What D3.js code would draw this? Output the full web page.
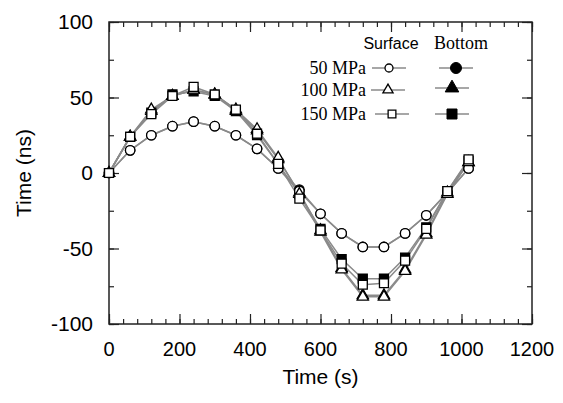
<!DOCTYPE html>
<html>
<head>
<meta charset="utf-8">
<script src="https://cdn.jsdelivr.net/npm/d3@7"></script>
<style>
  body { margin: 0; background: #fff; }
  svg { display: block; }
</style>
</head>
<body>
<div id="chart"></div>
<script>
// Data
var times = [0, 60, 120, 180, 240, 300, 360, 420, 480, 540, 600, 660, 720, 780, 840, 900, 960, 1020];
var surf50  = [0, 15, 25, 31, 34, 31, 25, 16, 3, -12, -27, -40, -49, -49, -40, -28, -13, 3];
var bot50   = [0, 15, 25, 31, 34, 31, 25, 16, 3, -11, -27, -40, -49, -49, -40, -28, -13, 3];
var surf100 = [0, 24, 42, 51, 55, 52, 42, 29, 10, -14, -39, -64, -82, -82, -65, -41, -14, 7];
var bot100  = [0, 24, 41, 51, 55, 52, 41, 28, 9, -13, -38, -63, -81, -81, -64, -40, -13, 7];
var surf150 = [0, 24, 39, 51, 57, 52, 42, 26, 6, -17, -38, -60, -74, -73, -58, -37, -12, 9];
var bot150  = [0, 24, 40, 52, 54, 51, 41, 25, 6, -14, -37, -57, -70, -70, -56, -36, -12, 8];
var pressures = ['50 MPa', '100 MPa', '150 MPa'];
var xTicks = [0, 200, 400, 600, 800, 1000, 1200];
var yTicks = [-100, -50, 0, 50, 100];

function drawChart() {
  var width = 563, height = 403;
  var m = {left: 109, right: 31, top: 22, bottom: 79};
  var w = width - m.left - m.right;
  var h = height - m.top - m.bottom;

  var svg = d3.select('#chart').append('svg')
    .attr('width', width)
    .attr('height', height);

  var x = d3.scaleLinear().domain([0, 1200]).range([m.left, m.left + w]);
  var y = d3.scaleLinear().domain([-100, 100]).range([m.top + h, m.top]);

  var axisColor = '#222';

  // ticks (inward), major and minor, on all four sides
  var xMinor = d3.range(0, 1201, 40);
  var yMinor = d3.range(-100, 101, 25);
  function tickAxis(axis, pos, vals, size) {
    var g = svg.append('g')
      .attr('transform', pos)
      .call(axis.tickValues(vals).tickSize(size).tickFormat(''));
    g.select('.domain').remove();
    g.selectAll('line').attr('stroke', axisColor).attr('stroke-width', 1.2);
    return g;
  }
  tickAxis(d3.axisBottom(x), 'translate(0,' + (m.top + h) + ')', xMinor, -5);
  tickAxis(d3.axisBottom(x), 'translate(0,' + (m.top + h) + ')', xTicks, -10);
  tickAxis(d3.axisTop(x), 'translate(0,' + m.top + ')', xMinor, -5);
  tickAxis(d3.axisTop(x), 'translate(0,' + m.top + ')', xTicks, -10);
  tickAxis(d3.axisLeft(y), 'translate(' + m.left + ',0)', yMinor, -5);
  tickAxis(d3.axisLeft(y), 'translate(' + m.left + ',0)', yTicks, -10);
  tickAxis(d3.axisRight(y), 'translate(' + (m.left + w) + ',0)', yMinor, -5);
  tickAxis(d3.axisRight(y), 'translate(' + (m.left + w) + ',0)', yTicks, -10);

  // frame
  svg.append('rect')
    .attr('x', m.left).attr('y', m.top)
    .attr('width', w).attr('height', h)
    .attr('fill', 'none')
    .attr('stroke', axisColor)
    .attr('stroke-width', 1.5);

  // tick labels
  var sans = 'Liberation Sans, Arial, sans-serif';
  var serif = 'Liberation Serif, Times New Roman, serif';
  svg.append('g').selectAll('text')
    .data(xTicks).enter().append('text')
    .attr('x', function(d) { return x(d); })
    .attr('y', m.top + h + 32)
    .attr('text-anchor', 'middle')
    .attr('font-family', sans)
    .attr('font-size', 20)
    .text(function(d) { return d; });

  svg.append('g').selectAll('text')
    .data(yTicks).enter().append('text')
    .attr('x', m.left - 16)
    .attr('y', function(d) { return y(d) + 7; })
    .attr('text-anchor', 'end')
    .attr('font-family', sans)
    .attr('font-size', 21)
    .text(function(d) { return d; });

  svg.append('text')
    .attr('x', x(600)).attr('y', 384)
    .attr('text-anchor', 'middle')
    .attr('font-family', sans)
    .attr('font-size', 21)
    .text('Time (s)');

  svg.append('text')
    .attr('transform', 'translate(31,' + y(0) + ') rotate(-90)')
    .attr('text-anchor', 'middle')
    .attr('font-family', sans)
    .attr('font-size', 21)
    .text('Time (ns)');

  // series: bottom drawn first, surface on top
  var series = [
    {vals: bot50, shape: d3.symbolCircle, fill: '#000', size: 70},
    {vals: bot100, shape: d3.symbolTriangle, fill: '#000', size: 55},
    {vals: bot150, shape: d3.symbolSquare, fill: '#000', size: 80},
    {vals: surf50, shape: d3.symbolCircle, fill: '#fff', size: 70},
    {vals: surf100, shape: d3.symbolTriangle, fill: '#fff', size: 55},
    {vals: surf150, shape: d3.symbolSquare, fill: '#fff', size: 80}
  ];

  var line = d3.line()
    .x(function(d, i) { return x(times[i]); })
    .y(function(d) { return y(d); });

  series.forEach(function(s) {
    svg.append('path')
      .datum(s.vals)
      .attr('d', line)
      .attr('fill', 'none')
      .attr('stroke', '#8a8a8a')
      .attr('stroke-width', 1.5);
  });

  series.forEach(function(s) {
    svg.append('g').selectAll('path')
      .data(s.vals).enter().append('path')
      .attr('d', d3.symbol().type(s.shape).size(s.size))
      .attr('transform', function(d, i) {
        return 'translate(' + x(times[i]) + ',' + y(d) + ')';
      })
      .attr('fill', s.fill)
      .attr('stroke', '#000')
      .attr('stroke-width', 1.3);
  });

  // legend
  var lg = svg.append('g');
  lg.append('text')
    .attr('x', 391).attr('y', 49)
    .attr('text-anchor', 'middle')
    .attr('font-family', sans)
    .attr('font-size', 16)
    .text('Surface');
  lg.append('text')
    .attr('x', 461).attr('y', 49)
    .attr('text-anchor', 'middle')
    .attr('font-family', serif)
    .attr('font-size', 18)
    .text('Bottom');

  var rowsY = [68, 90, 114];
  var shapes = [d3.symbolCircle, d3.symbolTriangle, d3.symbolSquare];
  var sizes = [50, 45, 60];
  var bigSizes = [95, 80, 100];
  var surfX = [389, 388, 392];
  var botX = [456, 452, 452];
  var botY = [68, 88, 114];

  pressures.forEach(function(p, i) {
    lg.append('text')
      .attr('x', 366).attr('y', rowsY[i] + 6)
      .attr('text-anchor', 'end')
      .attr('font-family', serif)
      .attr('font-size', 18)
      .text(p);
    lg.append('line')
      .attr('x1', surfX[i] - 17).attr('x2', surfX[i] + 17)
      .attr('y1', rowsY[i]).attr('y2', rowsY[i])
      .attr('stroke', '#8a8a8a').attr('stroke-width', 1.5);
    lg.append('path')
      .attr('d', d3.symbol().type(shapes[i]).size(sizes[i]))
      .attr('transform', 'translate(' + surfX[i] + ',' + rowsY[i] + ')')
      .attr('fill', '#fff').attr('stroke', '#000').attr('stroke-width', 1.3);
    lg.append('line')
      .attr('x1', botX[i] - 17).attr('x2', botX[i] + 17)
      .attr('y1', botY[i]).attr('y2', botY[i])
      .attr('stroke', '#8a8a8a').attr('stroke-width', 1.5);
    lg.append('path')
      .attr('d', d3.symbol().type(shapes[i]).size(bigSizes[i]))
      .attr('transform', 'translate(' + botX[i] + ',' + botY[i] + ')')
      .attr('fill', '#000').attr('stroke', '#000').attr('stroke-width', 1);
  });
}

drawChart();
</script>
</body>
</html>
